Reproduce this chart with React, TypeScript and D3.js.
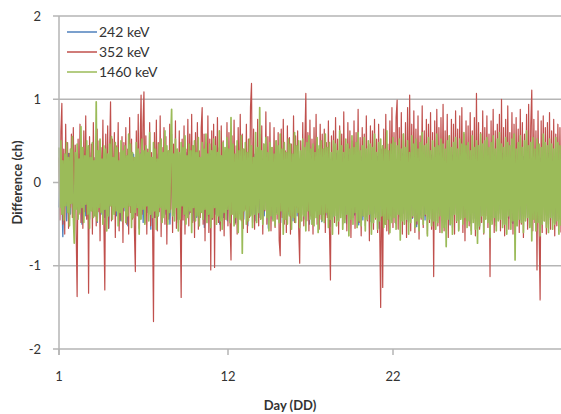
import React from 'react';
import * as d3 from 'd3';

// Day-of-month labels shown on the category axis
const tickDays = [1, 12, 22];
const yTicks = [2, 1, 0, -1, -2];
const seriesNames = ['242 keV', '352 keV', '1460 keV'];
const seriesColors = ['#4f81bd', '#c0504d', '#9bbb59'];
const seriesWidths = [1.3, 1.2, 1.7];
const firstDay = 1;
const lastDay = 32;

// 242 keV difference (ch)
const blue = [
  -0.30, 0.32, -0.65, 0.28, -0.46, 0.35, -0.38, 0.30, -0.42, 0.26,
  -0.36, 0.34, -0.50, 0.30, -0.40, 0.28, -0.44, 0.36, -0.32, 0.30,
  -0.48, 0.26, -0.38, 0.34, -0.42, 0.32, -0.55, 0.30, -0.36, 0.28,
  -0.40, 0.35, -0.46, 0.30, -0.34, 0.32, -0.52, 0.28, -0.40, 0.34,
  -0.38, 0.30, -0.44, 0.36, -0.48, 0.28, -0.36, 0.32, -0.56, 0.30,
  -0.42, 0.34, -0.40, 0.28, -0.46, 0.32, -0.38, 0.30, -0.50, 0.34,
  -0.36, 0.30, -0.44, 0.28, -0.52, 0.32, -0.40, 0.36, -0.38, 0.30,
  -0.46, 0.34, -0.42, 0.28, -0.36, 0.32, -0.54, 0.30, -0.40, 0.34,
  -0.44, 0.28, -0.38, 0.32, -0.50, 0.30, -0.42, 0.36, -0.46, 0.28,
  -0.40, 0.34, -0.48, 0.30, -0.36, 0.32, -0.44, 0.28, -0.52, 0.30,
  -0.38, 0.34, -0.46, 0.30, -0.42, 0.28, -0.40, 0.32, -0.55, 0.30,
  -0.44, 0.34, -0.36, 0.28, -0.48, 0.32, -0.42, 0.30, -0.38, 0.34,
  -0.46, 0.30, -0.40, 0.28, -0.36, 0.33, -0.44, 0.29, -0.50, 0.31,
  -0.37, 0.35, -0.43, 0.27, -0.47, 0.31, -0.39, 0.33, -0.53, 0.29,
  -0.41, 0.35, -0.45, 0.27, -0.37, 0.31, -0.49, 0.33, -0.43, 0.29,
  -0.39, 0.35, -0.51, 0.31, -0.45, 0.27, -0.41, 0.33, -0.47, 0.29,
  -0.37, 0.31, -0.55, 0.35, -0.43, 0.29, -0.39, 0.33, -0.45, 0.27,
  -0.49, 0.31, -0.41, 0.35, -0.37, 0.29, -0.47, 0.33, -0.43, 0.31,
  -0.53, 0.27, -0.39, 0.35, -0.45, 0.29, -0.41, 0.33, -0.49, 0.31,
  -0.37, 0.35, -0.43, 0.27, -0.47, 0.31, -0.51, 0.33, -0.39, 0.29,
  -0.45, 0.35, -0.41, 0.27, -0.37, 0.31, -0.49, 0.33, -0.43, 0.29,
  -0.55, 0.35, -0.39, 0.31, -0.45, 0.27, -0.41, 0.33, -0.47, 0.29,
  -0.37, 0.35, -0.51, 0.31, -0.43, 0.27, -0.49, 0.33, -0.39, 0.29,
  -0.45, 0.31, -0.41, 0.35, -0.53, 0.27, -0.37, 0.33, -0.47, 0.29,
  -0.43, 0.31, -0.39, 0.35, -0.45, 0.27, -0.49, 0.33, -0.41, 0.29,
];

// 352 keV difference (ch)
const red = [
  0.30, -0.45, 0.62, 0.95, -0.50, 0.40, -0.62, 0.70, -0.25, 0.48,
  -0.55, 0.35, -0.30, 0.58, -0.42, 0.66, -0.20, 0.45, -0.60, -1.37,
  0.52, -0.38, 0.70, -0.48, 0.28, -0.55, 0.62, -0.35, 0.80, -0.44,
  0.38, -1.33, 0.55, -0.28, 0.46, -0.62, 0.72, -0.40, 0.30, -0.52,
  0.64, -0.35, 0.50, -0.70, 0.42, -0.25, 0.75, -0.48, -1.29, 0.58,
  -0.40, 0.68, -0.55, 0.34, 0.97, -0.46, 0.52, -0.32, 0.60, -0.66,
  0.44, -0.28, 0.72, -0.58, 0.36, -0.45, 0.55, -0.72, 0.48, -0.30,
  0.66, -0.50, 0.40, -0.62, 0.78, -0.36, 0.52, -0.44, 0.30, -0.58,
  -1.07, 0.62, -0.40, 0.82, -0.55, 0.46, 1.05, -0.38, 0.70, 1.09,
  -0.48, 0.56, -0.62, 0.40, -0.30, 0.72, -0.52, 0.36, -0.45, -1.67,
  0.60, -0.42, 0.75, -0.58, 0.48, -0.35, 0.80, -0.65, 0.42, -0.28,
  0.66, -0.50, 0.55, -0.74, 0.38, -0.44, 0.70, -0.32, 0.58, -0.60,
  0.46, -0.38, 0.74, -0.55, 0.35, -0.48, 0.62, -0.40, -1.38, 0.52,
  -0.45, 0.68, -0.62, 0.40, -0.30, 0.76, -0.52, 0.58, -0.36, 0.82,
  -0.48, 0.44, -0.66, 0.60, -0.34, 0.72, -0.56, 0.38, -0.42, 0.66,
  0.90, -0.50, 0.58, -0.70, 0.46, -0.38, 0.80, -0.60, 0.52, -1.05,
  0.62, -0.44, 0.70, -1.02, 0.55, -0.36, 0.78, -0.48, 0.42, -0.58,
  0.68, -0.40, 0.50, -0.64, 0.36, -0.30, 0.72, -0.52, 0.60, -0.45,
  -0.93, 0.56, -0.38, 0.75, -0.50, 0.44, -0.62, 0.66, -0.34, 0.82,
  -0.46, 0.58, -0.55, 0.40, -0.32, 0.70, -0.60, 0.52, -0.42, 0.90,
  1.19, -0.48, 0.64, -0.56, 0.40, -0.38, 0.76, -0.52, 0.58, -0.44,
  0.68, -0.62, 0.46, -0.34, 0.85, -0.50, 0.55, -0.40, 0.72, -0.58,
  0.42, -0.36, 0.66, -0.54, 0.50, -0.44, 0.60, -0.70, -0.88, 0.64,
  -0.42, 0.76, -0.50, 0.38, -0.60, 0.68, -0.35, 0.54, -0.62, 0.46,
  -0.40, 0.80, -0.48, 0.56, -0.30, 0.62, -0.55, -0.97, 0.50, -0.38,
  0.72, -0.52, 0.44, 1.07, -0.46, 0.60, -0.58, 0.75, -0.40, 0.52,
  -0.62, 0.66, -0.34, 0.82, -0.50, 0.40, -0.56, 0.70, -0.44, 0.58,
  -0.38, 0.64, -0.60, 0.48, -0.42, 0.74, -0.54, -1.17, 0.56, -0.36,
  0.62, -0.48, 0.78, -0.40, 0.52, -0.62, 0.68, -0.34, 0.58, -0.50,
  0.85, -0.44, 0.46, -0.58, 0.72, -0.38, 0.62, -0.66, 0.50, -0.42,
  0.74, -0.55, 0.60, -0.35, 0.88, -0.48, 0.54, -0.64, 0.66, -0.40,
  0.58, -0.52, 0.80, -0.46, 0.44, -0.70, 0.68, -0.38, 0.62, -0.56,
  0.76, -0.44, 0.52, -0.60, 0.70, -0.48, -1.50, 0.40, -1.26, 0.64,
  -0.50, 0.82, -0.58, 0.46, -0.62, 0.74, -0.40, 0.90, -0.54, 0.60,
  -0.48, 0.78, 0.99, -0.56, 0.66, -0.44, 0.84, -0.62, 0.58, -0.50,
  0.72, -0.66, 0.90, -0.46, 1.05, -0.58, 0.70, -0.42, 0.86, -0.60,
  0.64, -0.50, 0.80, -0.68, 0.56, -0.44, 0.92, -0.54, 0.62, -0.40,
  0.76, -0.62, 0.70, -0.48, 0.84, -0.56, 0.60, -1.13, 0.74, -0.46,
  0.88, -0.52, 0.66, -0.60, 0.78, -0.42, 0.94, -0.58, 0.62, -0.50,
  0.82, -0.66, 0.56, -0.44, 0.76, -0.54, 0.70, -0.62, 0.86, -0.48,
  0.64, -0.56, 0.80, -0.42, 0.90, -0.60, 0.58, -0.70, 0.74, -0.46,
  0.68, -0.52, 0.84, -0.58, 0.62, -0.44, 0.78, -0.64, 1.07, -0.50,
  0.72, -0.56, 0.60, -0.48, 0.86, -0.62, 0.66, -0.40, 0.80, -0.54,
  0.58, -1.13, 0.74, -0.46, 0.88, -0.60, 0.62, -0.52, 0.70, -0.44,
  0.82, -0.58, 1.00, -0.50, 0.66, -0.64, 0.76, -0.42, 0.92, -0.56,
  0.60, -0.48, 0.84, -0.62, 0.70, -0.54, 0.78, -0.46, 0.64, -0.60,
  0.88, -0.50, 0.72, -0.66, 0.58, -0.44, 0.82, -0.56, 0.94, -0.52,
  0.68, 1.11, -0.58, 0.76, -0.48, 0.62, -1.05, 0.86, -0.54, -1.41,
  0.74, -0.60, 0.80, -0.46, 0.66, -0.62, 0.72, -0.50, 0.84, -0.56,
  0.62, -0.48, 0.76, -0.64, 0.58, -0.52, 0.70, -0.44, 0.66, -0.60,
];

// 1460 keV difference (ch)
const green = [
  0.42, -0.30, 0.50, -0.38, 0.26, -0.45, 0.34, -0.28, 0.48, -0.36,
  0.30, -0.52, 0.40, -0.25, 0.55, -0.40, -0.73, 0.36, -0.32, 0.46,
  -0.44, 0.28, -0.36, 0.67, -0.30, 0.42, -0.48, 0.32, -0.26, 0.50,
  -0.38, 0.44, -0.55, 0.30, -0.34, 0.48, -0.42, 0.26, -0.40, 0.97,
  -0.46, 0.38, -0.30, 0.52, -0.36, 0.28, -0.50, 0.44, -0.32, 0.40,
  -0.58, 0.34, -0.40, 0.46, -0.28, 0.55, -0.44, 0.30, -0.38, 0.48,
  -0.34, 0.42, -0.52, 0.26, -0.36, 0.50, -0.46, 0.38, -0.30, 0.44,
  -0.48, 0.32, -0.40, 0.58, -0.28, 0.46, -0.54, 0.36, -0.42, 0.30,
  -0.36, 0.48, -0.30, 0.40, -0.62, 0.34, -0.44, 0.52, -0.32, 0.38,
  -0.50, 0.44, -0.28, 0.36, -0.46, 0.60, -0.38, 0.30, -0.42, 0.48,
  -0.34, 0.40, -0.56, 0.28, -0.40, 0.46, -0.30, 0.52, -0.48, 0.36,
  -0.42, 0.62, -0.32, 0.44, -0.50, 0.38, -0.36, 0.48, 0.88, -0.40,
  0.34, -0.46, 0.52, -0.30, 0.40, -0.58, 0.36, -0.44, 0.48, -0.28,
  0.42, -0.38, 0.56, -0.50, 0.32, -0.42, 0.46, -0.34, 0.38, -0.60,
  0.44, -0.30, 0.50, -0.46, 0.36, -0.40, 0.54, -0.52, 0.30, -0.36,
  0.48, -0.44, 0.40, -0.32, 0.58, -0.48, 0.34, -0.38, 0.46, -0.54,
  0.38, -0.42, 0.52, -0.30, 0.44, -0.50, 0.36, -0.40, 0.62, -0.46,
  0.32, -0.56, 0.48, -0.36, 0.42, -0.44, 0.54, -0.32, 0.40, -0.48,
  0.78, -0.38, 0.46, -0.52, 0.34, -0.42, 0.50, -0.60, 0.38, -0.44,
  0.56, -0.85, 0.40, -0.34, 0.48, -0.50, 0.36, -0.46, 0.52, -0.40,
  0.44, -0.54, 0.30, -0.38, 0.60, -0.48, 0.42, -0.36, 0.90, -0.44,
  0.38, -0.50, 0.46, -0.32, 0.54, -0.42, 0.36, -0.58, 0.48, -0.40,
  0.42, -0.46, 0.34, -0.52, 0.50, -0.38, 0.44, -0.48, 0.58, -0.34,
  0.40, -0.62, 0.48, -0.44, 0.36, -0.50, 0.52, -0.40, 0.46, -0.56,
  0.34, -0.42, 0.60, -0.48, 0.44, -0.36, 0.50, -0.54, 0.38, -0.46,
  0.52, -0.40, 0.42, -0.58, 0.48, -0.34, 0.56, -0.44, 0.40, -0.50,
  0.46, -0.52, 0.36, -0.42, 0.54, -0.60, 0.44, -0.38, 0.50, -0.46,
  0.40, -0.48, 0.58, -0.36, 0.42, -0.54, 0.48, -0.44, 0.36, -0.62,
  0.50, -0.40, 0.46, -0.52, 0.38, -0.46, 0.62, -0.42, 0.44, -0.56,
  0.36, -0.48, 0.52, -0.38, 0.46, -0.64, 0.40, -0.44, 0.56, -0.50,
  0.42, -0.36, 0.48, -0.54, 0.60, -0.46, 0.38, -0.52, 0.44, -0.40,
  0.54, -0.58, 0.40, -0.44, 0.50, -0.38, 0.46, -0.62, 0.42, -0.48,
  0.58, -0.42, 0.36, -0.56, 0.48, -0.46, 0.52, -0.40, 0.44, -0.54,
  0.40, -0.50, 0.62, -0.44, 0.38, -0.60, 0.46, -0.48, 0.54, -0.42,
  0.48, -0.56, 0.44, -0.38, 0.52, -0.69, 0.40, -0.46, 0.58, -0.50,
  0.42, -0.44, 0.50, -0.62, 0.36, -0.48, 0.56, -0.40, 0.46, -0.54,
  0.52, -0.46, 0.40, -0.58, 0.48, -0.42, 0.60, -0.50, 0.44, -0.38,
  0.46, -0.64, 0.54, -0.44, 0.38, -0.52, 0.50, -0.46, 0.42, -0.56,
  0.58, -0.48, 0.44, -0.40, 0.52, -0.60, 0.46, -0.54, 0.40, -0.77,
  0.50, -0.44, 0.56, -0.50, 0.42, -0.62, 0.48, -0.38, 0.54, -0.46,
  0.40, -0.58, 0.52, -0.44, 0.46, -0.50, 0.60, -0.42, 0.44, -0.54,
  0.48, -0.46, 0.38, -0.62, 0.56, -0.48, 0.42, -0.56, 0.50, -0.73,
  0.44, -0.52, 0.58, -0.40, 0.46, -0.60, 0.50, -0.44, 0.54, -0.48,
  0.42, -0.66, 0.48, -0.50, 0.56, -0.42, 0.40, -0.58, 0.52, -0.46,
  0.60, -0.44, 0.46, -0.54, 0.42, -0.50, 0.54, -0.62, 0.48, -0.40,
  0.44, -0.56, 0.52, -0.46, 0.58, -0.93, 0.40, -0.52, 0.48, -0.44,
  0.56, -0.48, 0.42, -0.60, 0.50, -0.46, 0.62, -0.42, 0.44, -0.54,
  0.48, -0.70, 0.54, -0.44, 0.40, -0.58, 0.52, -0.48, 0.46, -0.64,
  0.42, -0.50, 0.58, -0.46, 0.48, -0.54, 0.44, -0.60, 0.52, -0.42,
  0.46, -0.56, 0.40, -0.50, 0.54, -0.46, 0.48, -0.62, 0.44, -0.52,
];

const allSeries = [blue, red, green];

const width = 561;
const height = 414;
const font = 'Lato, "Open Sans", sans-serif';

export default function App() {
  // category axis is not evenly spaced in days, so use a piecewise scale
  const x = d3.scaleLinear()
    .domain([firstDay, 12, 22, lastDay])
    .range([59, 228, 393, 561]);
  const y = d3.scaleLinear().domain([-2, 2]).range([349, 16]);

  const lineFor = (vals: number[]) => {
    const step = (lastDay - firstDay) / (vals.length - 1);
    const line = d3.line<number>()
      .x((_, i) => x(firstDay + i * step))
      .y(d => y(d));
    return line(vals) || '';
  };

  return (
    <svg width={width} height={height}
      style={{ position: 'absolute', left: 0, top: 0, background: '#fff' }}>
      {/* gridlines */}
      {yTicks.map(t => (
        <g key={t}>
          <line x1={53} x2={width} y1={y(t)} y2={y(t)} stroke="#b5b5b5" strokeWidth={1.5} />
          <text x={41} y={y(t)} dy="0.35em" textAnchor="end" fontFamily={font} fontSize={13} fill="#333">{t}</text>
        </g>
      ))}
      {/* data lines */}
      {allSeries.map((s, i) => (
        <path key={i} d={lineFor(s)} fill="none" stroke={seriesColors[i]}
          strokeWidth={seriesWidths[i]} strokeLinejoin="round" />
      ))}
      {/* y axis */}
      <line x1={59} x2={59} y1={16} y2={355} stroke="#b5b5b5" strokeWidth={1.5} />
      {/* x ticks */}
      {tickDays.map(d => (
        <g key={d}>
          <line x1={x(d)} x2={x(d)} y1={349} y2={355} stroke="#b5b5b5" strokeWidth={1.5} />
          <text x={x(d)} y={381} textAnchor="middle" fontFamily={font} fontSize={13} fill="#333">{d}</text>
        </g>
      ))}
      {/* axis titles */}
      <text x={290} y={410} textAnchor="middle" fontFamily={font} fontSize={13} fontWeight="bold" fill="#333">Day (DD)</text>
      <text transform={`translate(22,${y(0)}) rotate(-90)`} textAnchor="middle" fontFamily={font} fontSize={13} fontWeight="bold" fill="#333">Difference (ch)</text>
      {/* legend */}
      {seriesNames.map((n, i) => (
        <g key={n} transform={`translate(67,${32 + i * 20})`}>
          <rect x={-4} y={-9} width={95} height={19} fill="#fff" />
          <line x1={0} x2={30} y1={0} y2={0} stroke={seriesColors[i]} strokeWidth={1.5} />
          <text x={32} y={0} dy="0.35em" fontFamily={font} fontSize={14} fill="#333">{n}</text>
        </g>
      ))}
    </svg>
  );
}
